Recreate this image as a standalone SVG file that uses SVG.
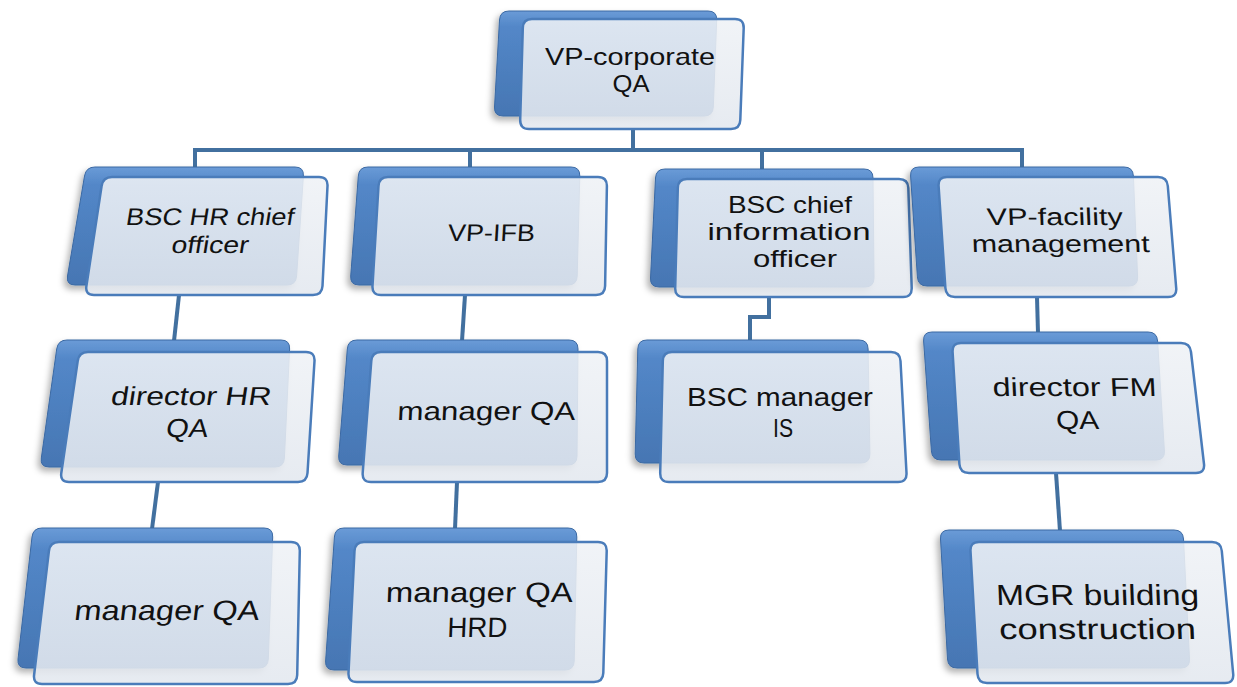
<svg xmlns="http://www.w3.org/2000/svg" width="1237" height="687" viewBox="0 0 1237 687">
<style>
.back{fill:url(#gBack);stroke:#3b69a3;stroke-width:1;filter:url(#sh)}
.front{fill:url(#gFront);fill-opacity:0.88;stroke:#4a7cba;stroke-width:2.5}
.conn{fill:none;stroke:#42709f;stroke-width:4;stroke-linejoin:miter}
.t{font-family:"Liberation Sans",Arial,sans-serif;fill:#111;text-anchor:middle}
</style>
<defs>
<linearGradient id="gBack" x1="0" y1="0" x2="0" y2="1">
<stop offset="0" stop-color="#6a9bd7"/>
<stop offset="0.15" stop-color="#5387c8"/>
<stop offset="1" stop-color="#4676b3"/>
</linearGradient>
<linearGradient id="gFront" x1="0" y1="0" x2="0" y2="1">
<stop offset="0" stop-color="#eff2f6"/>
<stop offset="1" stop-color="#e3e8ef"/>
</linearGradient>
<filter id="sh" x="-10%" y="-10%" width="120%" height="130%">
<feDropShadow dx="-3" dy="4" stdDeviation="3" flood-color="#000" flood-opacity="0.3"/>
</filter>
</defs>
<rect width="1237" height="687" fill="#ffffff"/>
<g id="connectors">
<path class="conn" d="M633,129 V150"/>
<path class="conn" d="M195,169 V150 H1022 V169"/>
<path class="conn" d="M470,150 V169"/>
<path class="conn" d="M762,150 V171"/>
<path class="conn" d="M179,295 L174,341"/>
<path class="conn" d="M158,482 L152,529"/>
<path class="conn" d="M465,295 L462,341"/>
<path class="conn" d="M457,482 L455,529"/>
<path class="conn" d="M769,297 V317 H750 V341"/>
<path class="conn" d="M1037,297 L1038,333"/>
<path class="conn" d="M1056,473 L1060,531"/>
</g>
<g id="n0">
<path class="back" d="M509,11 L708,11 Q717,11 716.7,20 L713.3,107 Q713,116 704,116 L503,116 Q494,116 494.5,107 L499.5,20 Q500,11 509,11 Z"/>
<path class="front" d="M532,19 L735,19 Q744,19 743.7,28 L740.3,120 Q740,129 731,129 L529,129 Q520,129 520.2,120 L522.8,28 Q523,19 532,19 Z"/>
<text class="t" font-size="24" x="630" y="65" textLength="170" lengthAdjust="spacingAndGlyphs">VP-corporate</text>
<text class="t" font-size="24" x="631" y="92" textLength="37" lengthAdjust="spacingAndGlyphs">QA</text>
</g>
<g id="n1">
<path class="back" d="M95,167 L295,167 Q304,167 303.4,176 L296.6,276 Q296,285 287,285 L75,285 Q66,285 67.5,276 L84.5,176 Q86,167 95,167 Z"/>
<path class="front" d="M112,177 L319,177 Q328,177 327.5,186 L322.5,286 Q322,295 313,295 L94,295 Q85,295 86.4,286 L101.6,186 Q103,177 112,177 Z"/>
<text class="t" font-size="24" x="209" y="225" textLength="168" lengthAdjust="spacingAndGlyphs" transform="matrix(1,0,-0.16,1,36,0)">BSC HR chief</text>
<text class="t" font-size="24" x="209" y="253" textLength="77" lengthAdjust="spacingAndGlyphs" transform="matrix(1,0,-0.16,1,40.5,0)">officer</text>
</g>
<g id="n2">
<path class="back" d="M368,167 L571,167 Q580,167 579.8,176 L577.2,276 Q577,285 568,285 L359,285 Q350,285 350.7,276 L358.3,176 Q359,167 368,167 Z"/>
<path class="front" d="M388,177 L598,177 Q607,177 606.9,186 L605.1,286 Q605,295 596,295 L381,295 Q372,295 372.5,286 L378.5,186 Q379,177 388,177 Z"/>
<text class="t" font-size="24" x="491" y="241" textLength="87" lengthAdjust="spacingAndGlyphs" transform="matrix(1,0,-0.06,1,14.5,0)">VP-IFB</text>
</g>
<g id="n3">
<path class="back" d="M665,169 L864,169 Q873,169 873,178 L874,278 Q874,287 865,287 L659,287 Q650,287 650.5,278 L655.5,178 Q656,169 665,169 Z"/>
<path class="front" d="M687,179 L899,179 Q908,179 908.3,188 L911.7,288 Q912,297 903,297 L684,297 Q675,297 675.2,288 L677.8,188 Q678,179 687,179 Z"/>
<text class="t" font-size="24" x="790" y="213" textLength="124" lengthAdjust="spacingAndGlyphs">BSC chief</text>
<text class="t" font-size="24" x="789" y="240" textLength="163" lengthAdjust="spacingAndGlyphs">information</text>
<text class="t" font-size="24" x="795" y="267" textLength="84" lengthAdjust="spacingAndGlyphs">officer</text>
</g>
<g id="n4">
<path class="back" d="M919,167 L1124,167 Q1133,167 1133.4,176 L1137.6,277 Q1138,286 1129,286 L927,286 Q918,286 917.4,277 L910.6,176 Q910,167 919,167 Z"/>
<path class="front" d="M947,177 L1158,177 Q1167,177 1167.8,186 L1176.2,288 Q1177,297 1168,297 L955,297 Q946,297 945.4,288 L938.6,186 Q938,177 947,177 Z"/>
<text class="t" font-size="24" x="1055" y="225" textLength="136" lengthAdjust="spacingAndGlyphs" transform="matrix(1,0,0.04,1,-9,0)">VP-facility</text>
<text class="t" font-size="24" x="1061" y="252" textLength="178" lengthAdjust="spacingAndGlyphs" transform="matrix(1,0,0.04,1,-10.1,0)">management</text>
</g>
<g id="n5">
<path class="back" d="M67,340 L281,340 Q290,340 289.6,349 L284.4,458 Q284,467 275,467 L49,467 Q40,467 41.3,458 L56.7,349 Q58,340 67,340 Z"/>
<path class="front" d="M88,352 L306,352 Q315,352 314.5,361 L307.5,473 Q307,482 298,482 L69,482 Q60,482 61.3,473 L77.7,361 Q79,352 88,352 Z"/>
<text class="t" font-size="26" x="190" y="405" textLength="160" lengthAdjust="spacingAndGlyphs" transform="matrix(1,0,-0.15,1,60.8,0)">director HR</text>
<text class="t" font-size="26" x="186" y="437" textLength="42" lengthAdjust="spacingAndGlyphs" transform="matrix(1,0,-0.15,1,65.6,0)">QA</text>
</g>
<g id="n6">
<path class="back" d="M357,340 L569,340 Q578,340 578,349 L577,456 Q577,465 568,465 L347,465 Q338,465 338.7,456 L347.3,349 Q348,340 357,340 Z"/>
<path class="front" d="M381,352 L598,352 Q607,352 607,361 L607,473 Q607,482 598,482 L371,482 Q362,482 362.7,473 L371.3,361 Q372,352 381,352 Z"/>
<text class="t" font-size="26" x="486" y="420" textLength="178" lengthAdjust="spacingAndGlyphs" transform="matrix(1,0,-0.05,1,21,0)">manager QA</text>
</g>
<g id="n7">
<path class="back" d="M647,340 L859,340 Q868,340 868.1,349 L869.9,454 Q870,463 861,463 L644,463 Q635,463 635.2,454 L637.8,349 Q638,340 647,340 Z"/>
<path class="front" d="M672,352 L891,352 Q900,352 900.5,361 L906.5,473 Q907,482 898,482 L669,482 Q660,482 660.2,473 L662.8,361 Q663,352 672,352 Z"/>
<text class="t" font-size="26" x="780" y="406" textLength="186" lengthAdjust="spacingAndGlyphs">BSC manager</text>
<text class="t" font-size="26" x="783" y="437" textLength="20" lengthAdjust="spacingAndGlyphs">IS</text>
</g>
<g id="n8">
<path class="back" d="M932,332 L1148,332 Q1157,332 1157.6,341 L1164.4,451 Q1165,460 1156,460 L941,460 Q932,460 931.4,451 L923.6,341 Q923,332 932,332 Z"/>
<path class="front" d="M961,343 L1181,343 Q1190,343 1191,352 L1204,464 Q1205,473 1196,473 L969,473 Q960,473 959.4,464 L952.6,352 Q952,343 961,343 Z"/>
<text class="t" font-size="26" x="1075" y="396" textLength="164" lengthAdjust="spacingAndGlyphs" transform="matrix(1,0,0.05,1,-19.8,0)">director FM</text>
<text class="t" font-size="26" x="1078" y="429" textLength="43" lengthAdjust="spacingAndGlyphs" transform="matrix(1,0,0.05,1,-21.5,0)">QA</text>
</g>
<g id="n9">
<path class="back" d="M42,528 L264,528 Q273,528 272.7,537 L268.3,659 Q268,668 259,668 L26,668 Q17,668 18,659 L32,537 Q33,528 42,528 Z"/>
<path class="front" d="M59,542 L291,542 Q300,542 299.8,551 L297.2,675 Q297,684 288,684 L42,684 Q33,684 34.1,675 L48.9,551 Q50,542 59,542 Z"/>
<text class="t" font-size="28" x="166" y="620" textLength="185" lengthAdjust="spacingAndGlyphs" transform="matrix(1,0,-0.12,1,74.4,0)">manager QA</text>
</g>
<g id="n10">
<path class="back" d="M344,528 L568,528 Q577,528 576.8,537 L574.2,661 Q574,670 565,670 L334,670 Q325,670 325.6,661 L334.4,537 Q335,528 344,528 Z"/>
<path class="front" d="M364,542 L598,542 Q607,542 606.7,551 L603.3,673 Q603,682 594,682 L357,682 Q348,682 348.5,673 L354.5,551 Q355,542 364,542 Z"/>
<text class="t" font-size="28" x="479" y="602" textLength="187" lengthAdjust="spacingAndGlyphs" transform="matrix(1,0,-0.04,1,24.1,0)">manager QA</text>
<text class="t" font-size="28" x="477" y="637" textLength="60" lengthAdjust="spacingAndGlyphs" transform="matrix(1,0,-0.04,1,25.5,0)">HRD</text>
</g>
<g id="n11">
<path class="back" d="M949,530 L1174,530 Q1183,530 1183.5,539 L1189.5,659 Q1190,668 1181,668 L957,668 Q948,668 947.5,659 L940.5,539 Q940,530 949,530 Z"/>
<path class="front" d="M979,542 L1212,542 Q1221,542 1221.8,551 L1233.2,674 Q1234,683 1225,683 L987,683 Q978,683 977.5,674 L970.5,551 Q970,542 979,542 Z"/>
<text class="t" font-size="29" x="1098" y="605" textLength="203" lengthAdjust="spacingAndGlyphs" transform="matrix(1,0,0.04,1,-24.2,0)">MGR building</text>
<text class="t" font-size="29" x="1098" y="639" textLength="197" lengthAdjust="spacingAndGlyphs" transform="matrix(1,0,0.04,1,-25.6,0)">construction</text>
</g>
</svg>
